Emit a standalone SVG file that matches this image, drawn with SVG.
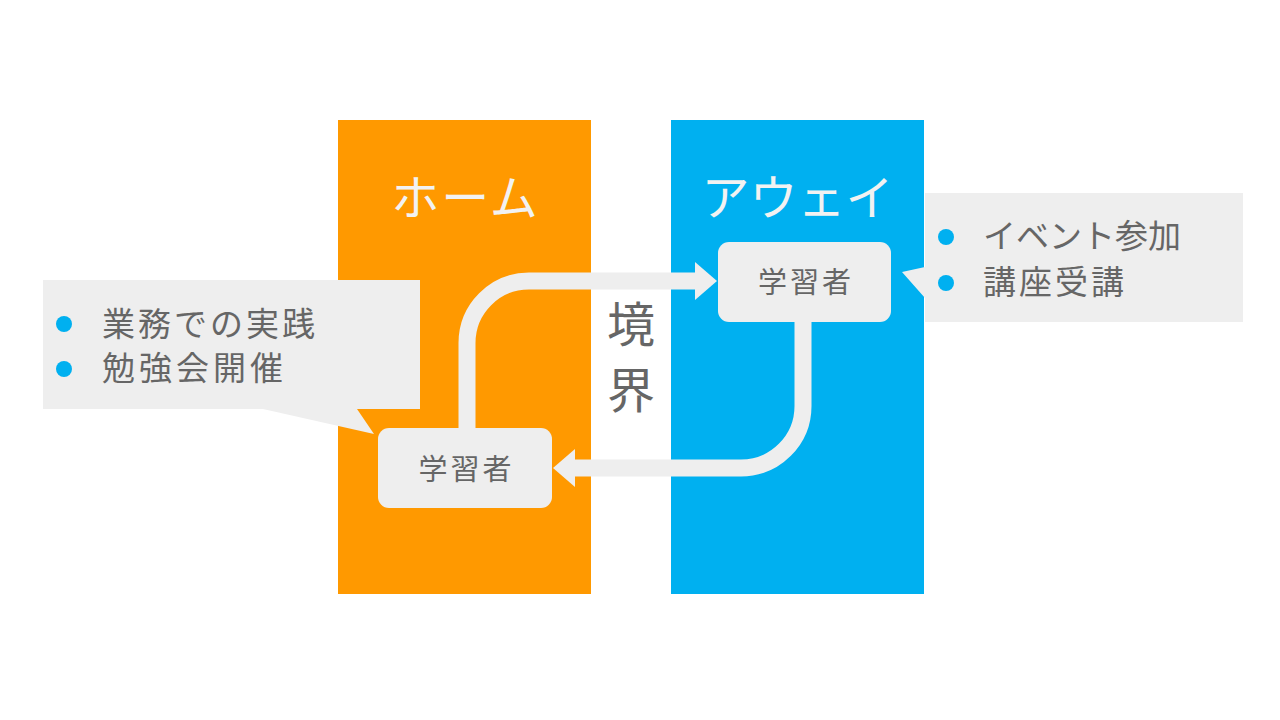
<svg xmlns="http://www.w3.org/2000/svg" width="1280" height="720" viewBox="0 0 1280 720">
<style>
text{font-family:"Noto Sans CJK JP","Noto Sans",sans-serif}
.zone-label{fill:#F2F2F2;font-size:48px;text-anchor:middle;letter-spacing:2px}
.node-box{fill:#EEEEEE}
.node-text{fill:#666666;font-size:29px;text-anchor:middle;letter-spacing:3px}
.callout{fill:#EEEEEE}
.item{fill:#666666;font-size:33px;letter-spacing:3px}
.bullet{fill:#00B0F0}
.conn{fill:none;stroke:#EEEEEE;stroke-width:17}
.border{fill:#666666;font-size:48px;text-anchor:middle}
</style>
<defs>
<marker id="arrow" viewBox="0 0 22 38" refX="0" refY="19" markerWidth="22" markerHeight="38" markerUnits="userSpaceOnUse" orient="auto">
<path d="M0 0 L22 19 L0 38 Z" fill="#EEEEEE"/>
</marker>
</defs>
<rect width="1280" height="720" fill="#FFFFFF"/>
<g id="home">
<rect x="338" y="120" width="253" height="474" fill="#FF9900"/>
<text class="zone-label" x="465.5" y="215">ホーム</text>
</g>
<g id="away">
<rect x="671" y="120" width="253" height="474" fill="#00B0F0"/>
<text class="zone-label" x="797.5" y="215" style="letter-spacing:0">アウェイ</text>
</g>
<g id="border-label">
<text class="border" x="631" y="342">境</text>
<text class="border" x="631" y="408">界</text>
</g>
<g id="callout-home">
<path class="callout" d="M43 280 H420 V409 H357 L374 434 L263 409 H43 Z"/>
<circle class="bullet" cx="64" cy="324" r="8"/>
<circle class="bullet" cx="64" cy="369" r="8"/>
<text class="item" x="102" y="336">業務での実践</text>
<text class="item" x="102" y="380" style="letter-spacing:4px">勉強会開催</text>
</g>
<g id="callout-away">
<path class="callout" d="M925 193 H1243 V322 H925 V298 L902 272 L925 267 Z"/>
<circle class="bullet" cx="946" cy="237" r="8"/>
<circle class="bullet" cx="946" cy="283" r="8"/>
<text class="item" x="983" y="248" style="letter-spacing:0">イベント参加</text>
<text class="item" x="983" y="294">講座受講</text>
</g>
<g id="connectors">
<path class="conn" d="M467 428 V343 A62 62 0 0 1 529 281 H695" marker-end="url(#arrow)"/>
<path class="conn" d="M803 322 V406 A62 62 0 0 1 741 468 H575" marker-end="url(#arrow)"/>
</g>
<g id="learner-away">
<rect class="node-box" x="718" y="242" width="173" height="80" rx="11"/>
<text class="node-text" x="806" y="293">学習者</text>
</g>
<g id="learner-home">
<rect class="node-box" x="378" y="428" width="174" height="80" rx="11"/>
<text class="node-text" x="466.5" y="480">学習者</text>
</g>
</svg>
